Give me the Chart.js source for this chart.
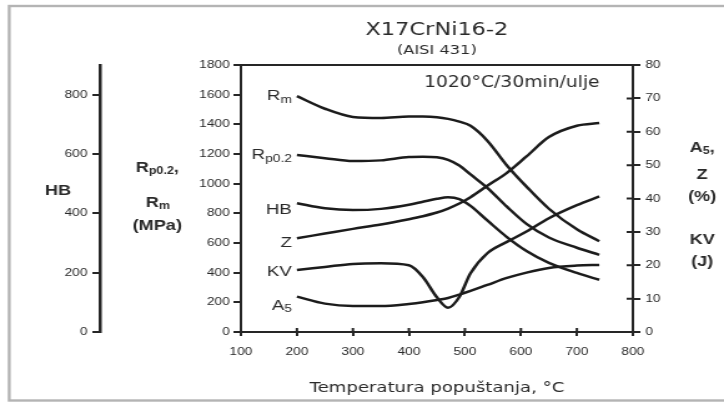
<!DOCTYPE html>
<html>
<head>
<meta charset="utf-8">
<title>X17CrNi16-2 (AISI 431)</title>
<script src="https://cdn.jsdelivr.net/npm/chart.js@4/dist/chart.umd.min.js"></script>
<style>
  html, body { margin: 0; padding: 0; background: #fff; overflow: hidden; }
</style>
</head>
<body>
<canvas id="chart" width="580" height="403" style="width:724px;height:403px;display:block"></canvas>
<script>
// Tempering temperature (°C) shared by every curve
const temps = [200, 250, 300, 350, 400, 425, 450, 470, 490, 510, 540, 575, 610, 650, 700, 740];
// Strength, MPa (left inner axis)
const rm   = [1590, 1505, 1450, 1443, 1452, 1452, 1448, 1437, 1418, 1390, 1290, 1123, 980, 831, 692, 612];
const rp02 = [1193, 1172, 1152, 1157, 1180, 1182, 1178, 1160, 1122, 1062, 972, 845, 729, 637, 568, 520];
// Hardness, HB (left outer axis)
const hb   = [434, 417, 411, 415, 429, 439, 449, 454, 448, 425, 376, 320, 273, 233, 199, 176];
// Z and A5 in %, KV in J (right axis)
const z    = [28.1, 29.5, 30.9, 32.2, 33.8, 34.7, 35.8, 37.0, 38.5, 40.4, 43.8, 47.7, 52.6, 58.4, 61.8, 62.6];
const kv   = [18.6, 19.5, 20.4, 20.6, 20.0, 16.5, 10.4, 7.3, 10.5, 17.6, 23.6, 27.0, 30.1, 34.1, 38.0, 40.6];
const a5   = [10.6, 8.5, 7.8, 7.8, 8.4, 8.9, 9.6, 10.2, 11.2, 12.3, 14.1, 16.2, 17.8, 19.2, 19.9, 20.1];

// curve labels: [main, subscript]
const curveLabels = [["R", "m"], ["R", "p0.2"], ["HB", ""], ["Z", ""], ["KV", ""], ["A", "5"]];

const titleText = "X17CrNi16-2";
const subtitleText = "(AISI 431)";
const treatText = "1020°C/30min/ulje";
const xTitle = "Temperatura popuštanja, °C";

const INK = "#262626";
const TXT = "#2a2a2a";
const SANS = "'Liberation Sans', Arial, sans-serif";
const DEJA = "'DejaVu Sans', Verdana, sans-serif";
const tickFont = { family: SANS, size: 11 };

function series(label, values, axis) {
  return {
    label,
    data: temps.map((t, i) => ({ x: t, y: values[i] })),
    yAxisID: axis,
    borderColor: "#1c1c1c",
    borderWidth: 2.5,
    pointRadius: 0,
    pointHoverRadius: 0,
    fill: false,
    cubicInterpolationMode: "monotone",
  };
}

// draw text made of [text, isSubscript] parts
function drawRich(ctx, parts, x, y, size, weight, align) {
  const mainFont = `${weight} ${size}px ${SANS}`;
  const subFont = `${weight} ${Math.round(size * 0.72)}px ${SANS}`;
  let w = 0;
  parts.forEach(([t, sub]) => { ctx.font = sub ? subFont : mainFont; w += ctx.measureText(t).width; });
  let cx = align === "right" ? x - w : align === "center" ? x - w / 2 : x;
  ctx.textAlign = "left";
  ctx.textBaseline = "middle";
  parts.forEach(([t, sub]) => {
    ctx.font = sub ? subFont : mainFont;
    ctx.fillText(t, cx, sub ? y + size * 0.25 : y);
    cx += ctx.measureText(t).width;
  });
}

const decor = {
  id: "decor",
  beforeDraw(chart) {
    const ctx = chart.ctx;
    ctx.save();
    ctx.strokeStyle = "#b4b4b4";
    ctx.lineWidth = 2.4;
    ctx.strokeRect(7.4, 6, 640, 394.5);
    ctx.restore();
  },
  afterDraw(chart) {
    const { ctx, chartArea: a, scales } = chart;
    ctx.save();
    // plot frame
    ctx.strokeStyle = INK;
    ctx.lineWidth = 2;
    ctx.strokeRect(a.left, a.top, a.right - a.left, a.bottom - a.top);
    // inner halves of the crossing ticks
    ctx.beginPath();
    scales.yR.ticks.forEach((t) => {
      const py = scales.yR.getPixelForValue(t.value);
      ctx.moveTo(a.right - 5, py); ctx.lineTo(a.right, py);
    });
    scales.x.ticks.forEach((t) => {
      const px = scales.x.getPixelForValue(t.value);
      ctx.moveTo(px, a.bottom - 4); ctx.lineTo(px, a.bottom);
    });
    ctx.stroke();

    ctx.fillStyle = TXT;
    const cx = (a.left + a.right) / 2;
    ctx.textAlign = "center";
    ctx.textBaseline = "middle";
    ctx.font = `18px ${DEJA}`;
    ctx.fillText(titleText, cx, 30);
    ctx.font = `13px ${DEJA}`;
    ctx.fillText(subtitleText, cx, 51);
    ctx.font = `15px ${DEJA}`;
    ctx.fillText(treatText, 410, 83);

    // curve labels beside the first point of each line
    const dy = [0, 0, 7, 4.5, 2, 9];
    chart.data.datasets.forEach((ds, i) => {
      const p = chart.getDatasetMeta(i).data[0];
      const [main, sub] = curveLabels[i];
      const parts = sub ? [[main, false], [sub, true]] : [[main, false]];
      drawRich(ctx, parts, p.x - 4, p.y + dy[i], 15, "normal", "right");
    });

    // axis titles
    drawRich(ctx, [["HB", false]], 46.5, 191, 14.5, "bold", "center");
    drawRich(ctx, [["R", false], ["p0.2", true], [",", false]], 126, 168, 14.5, "bold", "center");
    drawRich(ctx, [["R", false], ["m", true]], 126.5, 203, 14.5, "bold", "center");
    drawRich(ctx, [["(MPa)", false]], 126, 226, 14.5, "bold", "center");
    drawRich(ctx, [["A", false], ["5", true], [",", false]], 562.5, 148, 14.5, "bold", "center");
    drawRich(ctx, [["Z", false]], 562.5, 175, 14.5, "bold", "center");
    drawRich(ctx, [["(%)", false]], 562.5, 197, 14.5, "bold", "center");
    drawRich(ctx, [["KV", false]], 562.5, 240, 14.5, "bold", "center");
    drawRich(ctx, [["(J)", false]], 562.5, 262, 14.5, "bold", "center");
    ctx.restore();
  },
};

function yScale(position, min, max, step, weight, width, tickLen, pad) {
  return {
    type: "linear",
    position,
    min, max,
    weight,
    ticks: { stepSize: step, color: TXT, font: tickFont, padding: pad, callback: (v) => String(v) },
    grid: { drawOnChartArea: false, drawTicks: true, tickLength: tickLen, color: INK, lineWidth: 2 },
    border: { color: INK, width: 2 },
    afterFit: (s) => { s.width = width; },
  };
}

const hbScale = yScale("left", 0, 900, 200, 2, 64, 6, 4);
hbScale.afterBuildTicks = (s) => { s.ticks = s.ticks.filter((t) => t.value <= 800); };
hbScale.border.width = 2.5;

new Chart(document.getElementById("chart"), {
  type: "line",
  data: {
    datasets: [
      series("Rm", rm, "y"),
      series("Rp0.2", rp02, "y"),
      series("HB", hb, "yHB"),
      series("Z", z, "yR"),
      series("KV", kv, "yR"),
      series("A5", a5, "yR"),
    ],
  },
  options: {
    responsive: false,
    animation: false,
    events: [],
    layout: { padding: { left: 16, right: 0, top: 65, bottom: 0 } },
    plugins: { legend: { display: false }, tooltip: { enabled: false } },
    scales: {
      x: {
        type: "linear",
        position: "bottom",
        min: 100, max: 800,
        ticks: { stepSize: 100, color: TXT, font: tickFont, padding: 9, maxRotation: 0, callback: (v) => String(v) },
        grid: { drawOnChartArea: false, drawTicks: true, tickLength: 4, color: INK, lineWidth: 2 },
        border: { color: INK, width: 2 },
        title: { display: true, text: xTitle, color: TXT, font: { family: DEJA, size: 14.5 }, padding: { top: 0, bottom: 6 } },
        afterFit: (s) => { s.height = 71; },
      },
      y: yScale("left", 0, 1800, 200, 1, 113, 6, 3),
      yHB: hbScale,
      yR: yScale("right", 0, 80, 10, 0, 73, 6, 4),
    },
  },
  plugins: [decor],
});
</script>
</body>
</html>
